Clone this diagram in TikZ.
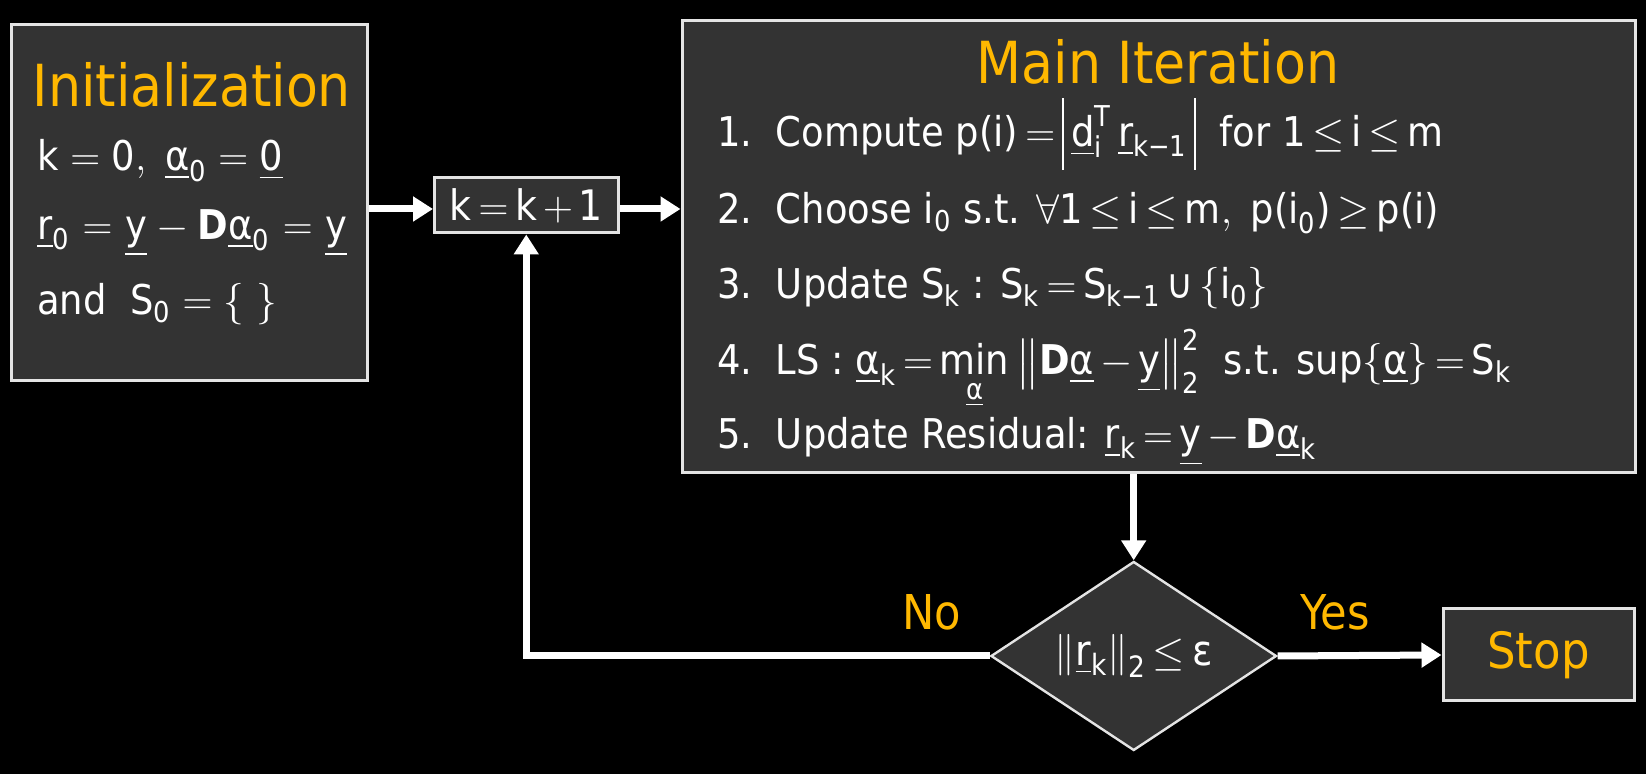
\documentclass[tikz,border=0pt]{standalone}
\usepackage{amsmath}
\usepackage{fontspec}
\setmainfont{DejaVu Sans Condensed}
\usetikzlibrary{arrows.meta,shapes.geometric}
\definecolor{gold}{RGB}{255,184,0}
\definecolor{boxfill}{RGB}{51,51,51}
\definecolor{edge}{RGB}{228,228,228}
\newcommand\tx[1]{\text{#1}}
\newcommand\bD{\text{\bfseries D}}
\newcommand\tallbar{\rule[-0.55em]{0.05em}{1.75em}}
\newcommand\ucup{\mathbin{\text{∪}}}
\thickmuskip=3mu plus 1mu
\medmuskip=2.5mu
\begin{document}
\begin{tikzpicture}[x=0.5pt,y=-0.5pt,
  box/.style={draw=edge, line width=1.5pt, fill=boxfill, inner sep=0pt},
  conn/.style={draw=white, line width=3.5pt, line join=miter, -{Triangle[length=10pt,width=12pt]}},
  title/.style={text=gold, font=\fontsize{29}{34}\selectfont, inner sep=0pt},
  body/.style={text=white, font=\fontsize{20.5}{24}\selectfont, inner sep=0pt, anchor=base west},
  lab/.style={text=gold, font=\fontsize{24}{28}\selectfont, inner sep=0pt, anchor=base}]
\fill[black] (0,0) rectangle (1646,774);
\useasboundingbox (0,0) rectangle (1646,774);
\coordinate (ay) at (0,209);
% boxes
\node[box, minimum width=177.75pt, minimum height=178pt] (init) at (189.25,203) {};
\node[box, minimum width=91.75pt, minimum height=27.5pt, text=white, font=\fontsize{21}{24}\selectfont] (kbox) at (526.25,205.5) {$\tx{k} = \tx{k} + \tx{1}$};
\node[box, minimum width=476.75pt, minimum height=226pt] (main) at (1158.75,247) {};
\node[box, shape=diamond, aspect=1.5, line width=1.2pt, minimum width=142.8pt, minimum height=94.5pt, text=white, font=\fontsize{21}{24}\selectfont] (dia) at (1133.7,656) {$\left\|\underline{\tx{r}}_{\tx{k}}\right\|_{\tx{2}} \le \tx{ε}$};
\node[box, minimum width=95.5pt, minimum height=46pt, text=gold, font=\fontsize{25}{30}\selectfont] (stop) at (1538.5,655) {Stop};
% titles
\node[title, anchor=base] (ttl1) at (192,107) {Initialization};
\node[title, anchor=base] (ttl2) at (1158,84) {Main Iteration};
% init text
\node[body] (i1) at (37,171) {\thickmuskip=5mu plus 2mu$\tx{k} = \tx{0},\ \underline{\tx{α}}_{\tx{0}} = \underline{\tx{0}}$};
\node[body] (i2) at (37,240) {\thickmuskip=5.5mu plus 2mu\medmuskip=4mu$\underline{\tx{r}}_{\tx{0}} = \underline{\tx{y}} - \bD\underline{\tx{α}}_{\tx{0}} = \underline{\tx{y}}$};
\node[body] (i3) at (37,315) {\thickmuskip=5mu plus 2mu and\ \ $\tx{S}_{\tx{0}} = \left\{\ \right\}$};
% main text
\node[body] (m1) at (717,147) {1.\ \ Compute $\tx{p(i)} = \tallbar\,\underline{\tx{d}}_{\tx{i}}^{\tx{T}}\,\underline{\tx{r}}_{\tx{k−1}}\,\tallbar$\ \ for $\tx{1} \le \tx{i} \le \tx{m}$};
\node[body] (m2) at (717,224) {2.\ \ Choose $\tx{i}_{\tx{0}}$ s.t. $\forall\tx{1} \le \tx{i} \le \tx{m},\ \tx{p(i}_{\tx{0}}\tx{)} \ge \tx{p(i)}$};
\node[body] (m3) at (717,299) {3.\ \ Update $\tx{S}_{\tx{k}}$ : $\tx{S}_{\tx{k}} = \tx{S}_{\tx{k−1}} \ucup \left\{\tx{i}_{\tx{0}}\right\}$};
\node[body] (m4) at (717,375) {4.\ \ LS : $\underline{\tx{α}}_{\tx{k}} = \mathop{\tx{min}}\limits_{\underline{\tx{α}}} \left\|\bD\underline{\tx{α}} - \underline{\tx{y}}\right\|_{\tx{2}}^{\tx{2}}$\ \ s.t. sup$\left\{\underline{\tx{α}}\right\} = \tx{S}_{\tx{k}}$};
\node[body] (m5) at (717,449) {5.\ \ Update Residual: $\underline{\tx{r}}_{\tx{k}} = \underline{\tx{y}} - \bD\underline{\tx{α}}_{\tx{k}}$};
% labels
\node[lab] (no) at (932,630) {No};
\node[lab] (yes) at (1335,630) {Yes};
% connectors
\draw[conn] (init.east |- ay) -- (kbox.west |- ay);
\draw[conn] (kbox.east |- ay) -- (main.west |- ay);
\draw[conn] (dia.north |- main.south) -- (dia.north);
\draw[conn] (dia.east) -- (stop.west);
\draw[conn] (dia.west) -- (kbox.south |- dia.west) -- (kbox.south);
\end{tikzpicture}
\end{document}
